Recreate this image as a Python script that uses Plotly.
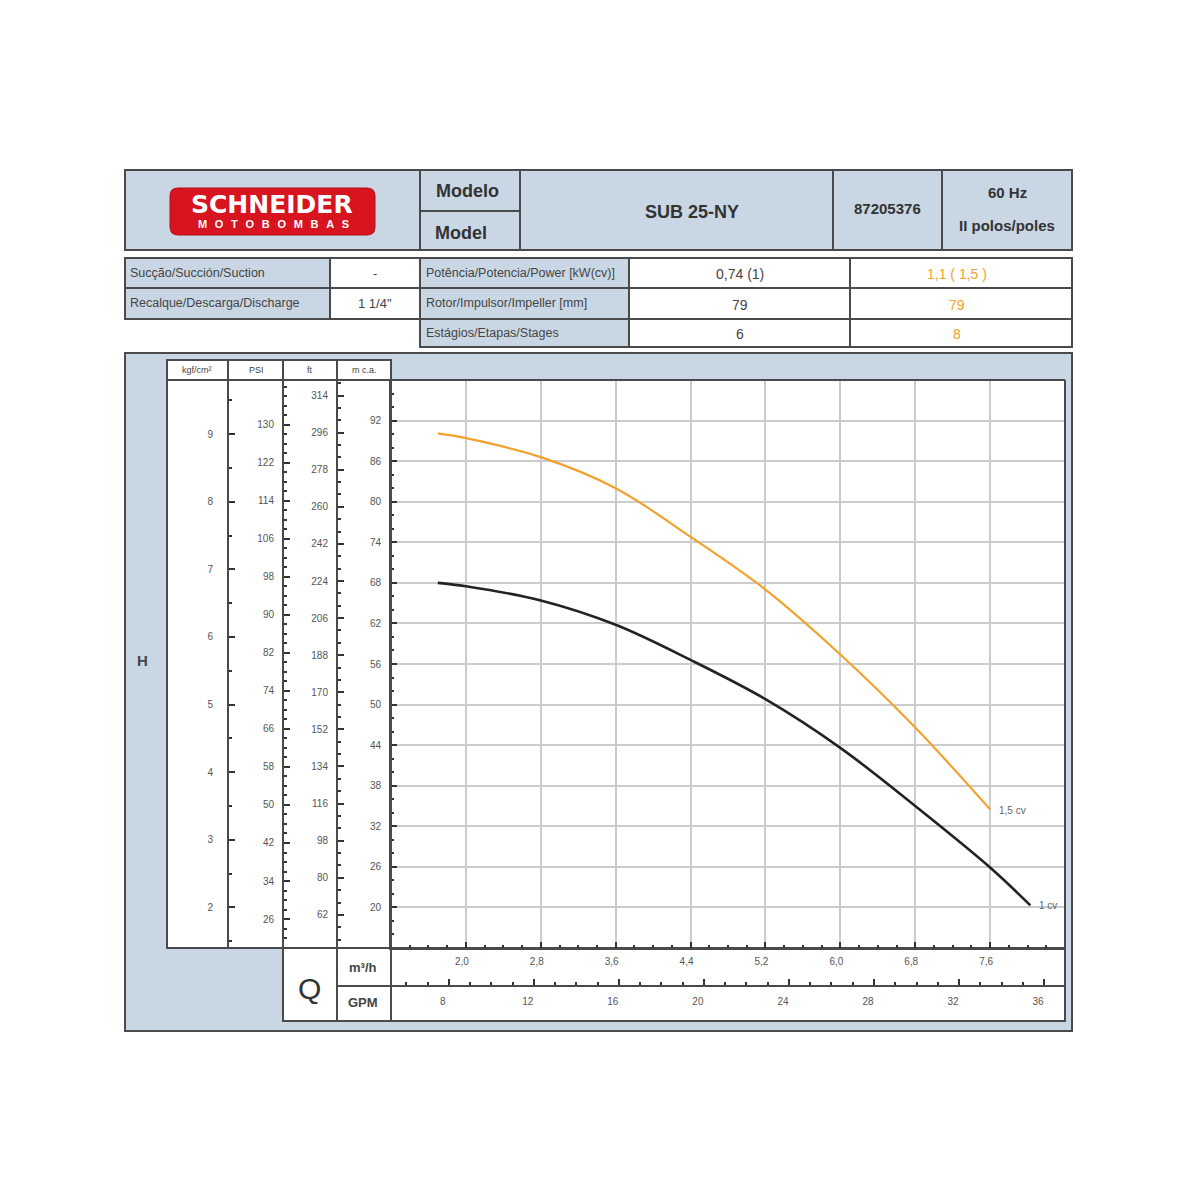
import plotly.graph_objects as go

# pump curves, flow Q in m3/h and head H in m c.a.
q_1cv = [1.7, 2.0, 2.8, 3.6, 4.4, 5.2, 6.0, 6.8, 7.6, 8.03]
h_1cv = [68.0, 67.5, 65.4, 61.8, 56.6, 50.8, 43.6, 35.0, 25.9, 20.3]
q_15cv = [1.7, 2.0, 2.8, 3.6, 4.4, 5.2, 6.0, 6.8, 7.6]
h_15cv = [90.1, 89.4, 86.6, 82.0, 74.8, 67.0, 57.4, 46.6, 34.5]

# tick values / labels for every scale
m3h_ticks = [2.0, 2.8, 3.6, 4.4, 5.2, 6.0, 6.8, 7.6]
m3h_labels = ["2,0", "2,8", "3,6", "4,4", "5,2", "6,0", "6,8", "7,6"]
gpm_ticks = [8, 12, 16, 20, 24, 28, 32, 36]
mca_ticks = [20, 26, 32, 38, 44, 50, 56, 62, 68, 74, 80, 86, 92]
ft_ticks = [62, 80, 98, 116, 134, 152, 170, 188, 206, 224, 242, 260, 278, 296, 314]
psi_ticks = [26, 34, 42, 50, 58, 66, 74, 82, 90, 98, 106, 114, 122, 130]
kgf_ticks = [2, 3, 4, 5, 6, 7, 8, 9]

# table texts
rows_left = [("Sucção/Succión/Suction", "-"), ("Recalque/Descarga/Discharge", "1 1/4\"")]
rows_right = [("Potência/Potencia/Power [kW(cv)]", "0,74 (1)", "1,1 ( 1,5 )"),
              ("Rotor/Impulsor/Impeller [mm]", "79", "79"),
              ("Estágios/Etapas/Stages", "6", "8")]

Q_MIN, Q_MAX = 1.2, 8.4
H_MIN, H_MAX = 14, 98
GPM = 0.2271247   # m3/h per US gpm
FT = 3.28084
PSI = 0.70307     # m per psi

W = 1200
OFF = 8           # page body margin
BLUE = "#c9d7e5"
BORDER = "#4a4a4a"
ORANGE = "#f2a22c"
TXT = "#555555"
FONT = "Liberation Sans, Arial, sans-serif"
NARROW = "Liberation Sans Narrow, Arial Narrow, Liberation Sans, Arial, sans-serif"


def px(x):
    return (x - OFF) / W


def py(y):
    return 1 - (y - OFF) / W


shapes = []


def rect(x0, y0, x1, y1, fill, lw=2, layer="below"):
    shapes.append(dict(type="rect", xref="paper", yref="paper",
                       x0=px(x0), x1=px(x1), y0=py(y1), y1=py(y0),
                       fillcolor=fill, line=dict(color=BORDER, width=lw), layer=layer))


def line(x0, y0, x1, y1, lw=2, color=BORDER, layer="above"):
    shapes.append(dict(type="line", xref="paper", yref="paper",
                       x0=px(x0), x1=px(x1), y0=py(y0), y1=py(y1),
                       line=dict(color=color, width=lw), layer=layer))


annotations = []


def text(x, y, s, size=11, color=TXT, family=FONT, anchor="center"):
    annotations.append(dict(x=px(x), y=py(y), xref="paper", yref="paper", text=s,
                            showarrow=False, xanchor=anchor, yanchor="middle",
                            font=dict(size=size, color=color, family=family)))


# header
rect(125, 170, 1072, 250, BLUE)
for xv in [420, 520, 833, 942]:
    line(xv, 170, xv, 250)
line(420, 211, 520, 211)
text(467, 191, "<b>Modelo</b>", 18, "#333333")
text(461, 233, "<b>Model</b>", 18, "#333333")
text(692, 212, "<b>SUB 25-NY</b>", 18, "#333333")
text(887, 209, "<b>87205376</b>", 15, "#333333")
text(1007, 192, "<b>60 Hz</b>", 15, "#333333")
text(1007, 226, "<b>II polos/poles</b>", 15, "#333333")

# logo
lx0, ly0, lx1, ly1, r = 170, 188, 375, 235, 8
logo_path = (f"M {px(lx0 + r)},{py(ly0)} L {px(lx1 - r)},{py(ly0)} "
             f"Q {px(lx1)},{py(ly0)} {px(lx1)},{py(ly0 + r)} L {px(lx1)},{py(ly1 - r)} "
             f"Q {px(lx1)},{py(ly1)} {px(lx1 - r)},{py(ly1)} L {px(lx0 + r)},{py(ly1)} "
             f"Q {px(lx0)},{py(ly1)} {px(lx0)},{py(ly1 - r)} L {px(lx0)},{py(ly0 + r)} "
             f"Q {px(lx0)},{py(ly0)} {px(lx0 + r)},{py(ly0)} Z")
shapes.append(dict(type="path", xref="paper", yref="paper", path=logo_path,
                   fillcolor="#d7141f", line=dict(color="#b01018", width=1), layer="below"))
text(272, 204, "<b>SCHNEIDER</b>", 25, "white", "DejaVu Sans, Liberation Sans, sans-serif")
text(273, 224, "<b>" + "\u2002\u2009".join("MOTOBOMBAS") + "</b>", 11, "white", FONT)

# parameter table
row_y = [258, 288, 319, 347]
for i, (lab, val) in enumerate(rows_left):
    rect(125, row_y[i], 330, row_y[i + 1], BLUE)
    rect(330, row_y[i], 420, row_y[i + 1], "white")
    text(128, (row_y[i] + row_y[i + 1]) / 2, lab, 12.5, "#444444", NARROW, "left")
    text(375, (row_y[i] + row_y[i + 1]) / 2, val, 13, "#444444")
for i, (lab, v1, v2) in enumerate(rows_right):
    yc = (row_y[i] + row_y[i + 1]) / 2
    rect(420, row_y[i], 629, row_y[i + 1], BLUE)
    rect(629, row_y[i], 850, row_y[i + 1], "white")
    rect(850, row_y[i], 1072, row_y[i + 1], "white")
    text(424, yc, lab, 12.5, "#444444", NARROW, "left")
    text(740, yc + 1, v1, 14, "#444444")
    text(957, yc + 1, v2, 14, ORANGE)

# chart panel
rect(125, 353, 1072, 1031, BLUE)
rect(167, 360, 391, 948, "white")
rect(391, 380, 1065, 948, "white", lw=0)
rect(283, 948, 1065, 1021, "white")
for xv in [228, 283, 337, 391]:
    line(xv, 360, xv, 380)
line(167, 380, 1065, 380)
line(391, 380, 391, 948)
line(1065, 380, 1065, 1021)
line(167, 948, 391, 948)
line(337, 948, 337, 1021)
line(391, 948, 391, 1021)
line(337, 986, 391, 986)

text(197, 370, "kgf/cm²", 9, "#444444")
text(256, 370, "PSI", 9, "#444444")
text(310, 370, "ft", 9, "#444444")
text(364, 370, "m c.a.", 9, "#444444")
text(142, 660, "<b>H</b>", 15, "#444444")
text(309, 988, "Q", 30, "#333333")
text(363, 967, "<b>m³/h</b>", 13, "#444444")
text(363, 1002, "<b>GPM</b>", 13, "#444444")

fig = go.Figure()
fig.add_trace(go.Scatter(x=q_15cv, y=h_15cv, mode="lines", line=dict(color=ORANGE, width=2.2, shape="spline", smoothing=1.0),
                         hoverinfo="skip"))
fig.add_trace(go.Scatter(x=q_1cv, y=h_1cv, mode="lines", line=dict(color="#222222", width=2.6, shape="spline", smoothing=1.0),
                         hoverinfo="skip"))
text(1012, 810, "1,5 cv", 10, "#666666")
text(1048, 905, "1 cv", 10, "#666666")

# dummy traces so the extra scales are drawn
for ax in ["y2", "y3", "y4"]:
    fig.add_trace(go.Scatter(x=[None], y=[None], yaxis=ax, hoverinfo="skip"))
fig.add_trace(go.Scatter(x=[None], y=[None], xaxis="x2", hoverinfo="skip"))

tick_font = dict(size=10, color=TXT, family=FONT)
xdom = [px(391), px(1065)]
ydom = [py(948), py(380)]

yscale = dict(overlaying="y", anchor="free", side="left", domain=ydom, showgrid=False, zeroline=False,
              showline=True, linecolor=BORDER, linewidth=2, ticks="inside", ticklen=6, tickwidth=2,
              tickcolor="#333333", tickfont=tick_font, tickmode="array", ticklabelstandoff=6)

fig.update_layout(
    width=1200, height=1200, margin=dict(l=0, r=0, t=0, b=0),
    paper_bgcolor="white", plot_bgcolor="rgba(0,0,0,0)", showlegend=False,
    shapes=shapes, annotations=annotations,
    xaxis=dict(domain=xdom, range=[Q_MIN, Q_MAX], anchor="y", tickmode="array", tickvals=m3h_ticks,
               ticktext=m3h_labels, ticks="inside", ticklen=6, tickwidth=2, tickcolor="#333333",
               showgrid=True, gridcolor="#cccccc", gridwidth=1.5, zeroline=False,
               showline=True, linecolor=BORDER, linewidth=2, tickfont=tick_font,
               ticklabelstandoff=3, ticklabelshift=-4,
               minor=dict(dtick=0.2, tick0=Q_MIN, ticks="inside", ticklen=3, tickcolor="#333333", showgrid=False)),
    xaxis2=dict(overlaying="x", anchor="free", position=py(986), side="bottom", domain=xdom,
                range=[Q_MIN / GPM, Q_MAX / GPM], tickmode="array", tickvals=gpm_ticks,
                ticks="inside", ticklen=6, tickwidth=2, tickcolor="#333333", showgrid=False, zeroline=False,
                showline=True, linecolor=BORDER, linewidth=2, tickfont=tick_font,
                ticklabelstandoff=6, ticklabelshift=-6,
                minor=dict(dtick=1, tick0=0, ticks="inside", ticklen=3, tickcolor="#333333", showgrid=False)),
    yaxis=dict(domain=ydom, range=[H_MIN, H_MAX], anchor="x", tickmode="array", tickvals=mca_ticks,
               ticks="inside", ticklen=6, tickwidth=2, tickcolor="#333333",
               showgrid=True, gridcolor="#cccccc", gridwidth=1.5, zeroline=False,
               showline=True, linecolor=BORDER, linewidth=2, tickfont=tick_font, ticklabelstandoff=6,
               minor=dict(dtick=2, tick0=0, ticks="inside", ticklen=3, tickcolor="#333333", showgrid=False)),
    yaxis2=dict(yscale, position=px(337), range=[H_MIN * FT, H_MAX * FT], tickvals=ft_ticks,
                minor=dict(dtick=6, tick0=8, ticks="inside", ticklen=3, tickcolor="#333333")),
    yaxis3=dict(yscale, position=px(283), range=[H_MIN / PSI, H_MAX / PSI], tickvals=psi_ticks,
                minor=dict(dtick=2, tick0=0, ticks="inside", ticklen=3, tickcolor="#333333")),
    yaxis4=dict(yscale, position=px(228), range=[H_MIN / 10, H_MAX / 10], tickvals=kgf_ticks,
                ticklabelstandoff=12,
                minor=dict(dtick=0.5, tick0=0, ticks="inside", ticklen=3, tickcolor="#333333")),
)

fig.write_html("out.html")
